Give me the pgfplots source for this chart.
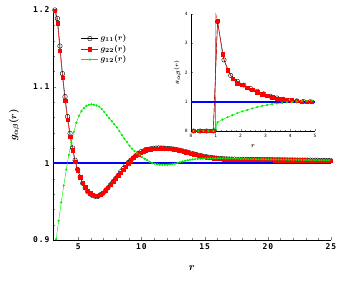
\documentclass[border=0pt]{standalone}
\usepackage{fontspec}
\usepackage{bm}
\usepackage{pgfplots}
\usepackage{pgfplotstable}
\pgfplotsset{compat=1.18}
\newfontfamily\tickfont{DejaVu Sans Mono Bold}[LetterSpace=12]
\newfontfamily\smalltickfont{DejaVu Sans Mono}
\definecolor{gr}{RGB}{0,235,0}
\definecolor{bl}{RGB}{0,0,255}
\definecolor{rd}{RGB}{255,0,0}

\pgfplotstableread{
r g22 g11
3.15 1.199 1.200
3.35 1.183 1.189
3.55 1.147 1.153
3.75 1.112 1.117
3.95 1.082 1.087
4.15 1.057 1.061
4.35 1.035 1.039
4.55 1.017 1.020
4.75 1.002 1.004
4.95 0.991 0.992
5.15 0.982 0.982
5.35 0.975 0.974
5.55 0.969 0.968
5.75 0.964 0.963
5.95 0.961 0.960
6.15 0.959 0.958
6.35 0.958 0.957
6.55 0.958 0.957
6.75 0.959 0.959
6.95 0.962 0.961
7.15 0.965 0.964
7.35 0.968 0.968
7.55 0.972 0.972
7.75 0.976 0.976
7.95 0.980 0.980
8.15 0.984 0.984
8.35 0.988 0.989
8.55 0.992 0.993
8.75 0.996 0.997
8.95 1.000 1.001
9.15 1.004 1.004
9.35 1.007 1.007
9.55 1.010 1.010
9.75 1.012 1.013
9.95 1.014 1.015
10.15 1.016 1.016
10.35 1.017 1.018
10.55 1.018 1.018
10.75 1.0185 1.019
10.95 1.019 1.0195
11.15 1.0192 1.0198
11.35 1.0194 1.020
11.55 1.0195 1.020
11.75 1.0194 1.0198
11.95 1.0192 1.0196
12.15 1.019 1.0193
12.35 1.0187 1.019
12.55 1.0183 1.0186
12.75 1.0177 1.018
12.95 1.017 1.0173
13.15 1.0163 1.0166
13.35 1.0155 1.0158
13.55 1.0146 1.0149
13.75 1.0137 1.014
13.95 1.0128 1.0131
14.15 1.0119 1.0122
14.35 1.011 1.0113
14.55 1.0102 1.0105
14.75 1.0095 1.0098
14.95 1.0088 1.0091
15.15 1.0082 1.0085
15.35 1.0077 1.008
15.55 1.0072 1.0075
15.75 1.0068 1.0071
15.95 1.0064 1.0067
16.15 1.0061 1.0064
16.35 1.0058 1.0061
16.55 1.0056 1.0059
16.75 1.0054 1.0057
16.95 1.0053 1.0056
17.15 1.0052 1.0055
17.35 1.0051 1.0054
17.55 1.0050 1.0053
17.75 1.0050 1.0053
17.95 1.0049 1.0052
18.15 1.0049 1.0052
18.35 1.0048 1.0051
18.55 1.0048 1.0051
18.75 1.0047 1.005
18.95 1.0047 1.005
19.15 1.0046 1.0049
19.35 1.0046 1.0049
19.55 1.0045 1.0048
19.75 1.0045 1.0048
19.95 1.0045 1.0048
20.15 1.0044 1.0047
20.35 1.0044 1.0047
20.55 1.0043 1.0046
20.75 1.0043 1.0046
20.95 1.0043 1.0046
21.15 1.0042 1.0045
21.35 1.0042 1.0045
21.55 1.0041 1.0044
21.75 1.0041 1.0044
21.95 1.0041 1.0044
22.15 1.0040 1.0043
22.35 1.0040 1.0043
22.55 1.0039 1.0042
22.75 1.0039 1.0042
22.95 1.0039 1.0042
23.15 1.0038 1.0041
23.35 1.0038 1.0041
23.55 1.0037 1.004
23.75 1.0037 1.004
23.95 1.0037 1.004
24.15 1.0036 1.0039
24.35 1.0036 1.0039
24.55 1.0035 1.0038
24.75 1.0035 1.0038
24.95 1.0035 1.0038
}\mainred

\pgfplotstableread{
r g12
3.25 0.901
3.45 0.925
3.65 0.949
3.85 0.971
4.05 0.992
4.25 1.011
4.45 1.027
4.65 1.041
4.85 1.053
5.05 1.062
5.25 1.068
5.45 1.072
5.65 1.075
5.85 1.0765
6.05 1.077
6.25 1.0765
6.45 1.0755
6.65 1.074
6.85 1.071
7.05 1.067
7.25 1.063
7.45 1.059
7.65 1.055
7.85 1.051
8.05 1.047
8.25 1.042
8.45 1.037
8.65 1.032
8.85 1.028
9.05 1.023
9.25 1.019
9.45 1.016
9.65 1.013
9.85 1.011
10.05 1.008
10.25 1.006
10.45 1.004
10.65 1.002
10.85 1.0005
11.05 0.9995
11.25 0.9988
11.45 0.9983
11.65 0.998
11.85 0.998
12.05 0.9982
12.25 0.9986
12.45 0.999
12.65 0.9995
12.85 1.0005
13.05 1.0015
13.25 1.0025
13.45 1.0033
13.65 1.004
13.85 1.0046
14.05 1.0051
14.25 1.0055
14.45 1.0058
14.65 1.006
14.85 1.0062
15.05 1.0063
15.25 1.0064
15.45 1.0065
15.65 1.0065
15.85 1.0066
16.05 1.0066
16.25 1.0066
16.45 1.0065
16.65 1.0065
16.85 1.0064
17.05 1.0064
17.25 1.0063
17.45 1.0062
17.65 1.0061
17.85 1.006
18.05 1.0059
18.25 1.0058
18.45 1.0057
18.65 1.0056
18.85 1.0055
19.05 1.0055
19.25 1.0054
19.45 1.0053
19.65 1.0053
19.85 1.0052
20.05 1.0052
20.25 1.0051
20.45 1.0051
20.65 1.005
20.85 1.005
21.05 1.0049
21.25 1.0049
21.45 1.0048
21.65 1.0048
21.85 1.0047
22.05 1.0047
22.25 1.0046
22.45 1.0046
22.65 1.0045
22.85 1.0045
23.05 1.0044
23.25 1.0044
23.45 1.0043
23.65 1.0043
23.85 1.0042
24.05 1.0042
24.25 1.0041
24.45 1.0041
24.65 1.004
24.85 1.004
}\maingreen

\pgfplotstableread{
r g22 g12
0.1 0 0
0.3 0 0
0.5 0 0
0.7 0 0
0.9 0 0
1.07 3.77 0.30
1.27 2.62 0.39
1.47 2.08 0.47
1.67 1.79 0.54
1.87 1.64 0.61
2.07 1.59 0.67
2.27 1.49 0.72
2.47 1.41 0.77
2.67 1.33 0.82
2.87 1.26 0.86
3.07 1.21 0.89
3.27 1.16 0.92
3.47 1.11 0.94
3.67 1.09 0.96
3.87 1.07 0.98
4.07 1.05 0.99
4.27 1.03 1.01
4.47 1.01 1.02
4.67 1.00 1.03
4.87 1.00 1.04
}\insetdata

\pgfplotstableread{
r g11
0.1 0
0.37 0
0.63 0
0.9 0
1.07 3.74
1.33 2.43
1.6 1.90
1.87 1.70
2.13 1.57
2.4 1.45
2.67 1.36
2.93 1.27
3.2 1.19
3.47 1.13
3.73 1.08
4.0 1.05
4.27 1.03
4.53 1.01
4.8 1.00
}\insetblack

\begin{document}
\begin{tikzpicture}
\begin{axis}[
  name=main,
  scale only axis,
  width=278bp, height=230bp,
  xmin=3, xmax=25, ymin=0.9, ymax=1.2,
  axis lines=left,
  axis line style={-, black},
  tick align=inside,
  major tick length=3bp, minor tick length=1.8bp,
  xtick={5,10,15,20,25},
  ytick={0.9,1,1.1,1.2},
  yticklabels={0.9,1,1.1,1.2},
  minor x tick num=4, minor y tick num=4,
  /pgf/number format/assume math mode=true,
  tick label style={font=\tickfont\fontsize{8}{9}\selectfont},
  xlabel={$\bm{r}$},
  ylabel={$\bm{g_{\alpha\beta}(r)}$},
  xlabel style={font=\fontsize{11}{12}\selectfont, yshift=-9bp},
  ylabel style={font=\fontsize{10}{11}\selectfont, yshift=7bp},
  clip=false,
  legend style={at={(0.09,0.91)}, anchor=north west, draw=none, fill=none,
    font=\fontsize{8.5}{9}\selectfont, row sep=-1pt},
  legend cell align=left,
]
\addplot[bl, line width=1.8bp, no marks, forget plot] coordinates {(3,1.0) (25,1.0)};
\addplot[black, thin, mark=o, mark size=2.3bp, mark options={black, line width=0.4pt}] table[x=r,y=g11] {\mainred};
\addlegendentry{$\bm{g_{11}(r)}$}
\addplot[rd, thin, mark=square*, mark size=1.7bp, mark options={rd}] table[x=r,y=g22] {\mainred};
\addlegendentry{$\bm{g_{22}(r)}$}
\addplot[gr, thin, mark=*, mark size=0.9bp, mark options={gr}] table[x=r,y=g12] {\maingreen};
\addlegendentry{$\bm{g_{12}(r)}$}
\end{axis}

\begin{axis}[
  at={(138bp,109bp)}, anchor=south west,
  scale only axis,
  width=124bp, height=117bp,
  xmin=0, xmax=5, ymin=0, ymax=4,
  axis lines=left,
  axis line style={-, black},
  tick align=inside,
  major tick length=2bp, minor tick length=1.2bp,
  xtick={0,1,2,3,4,5}, ytick={0,1,2,3,4},
  minor x tick num=4, minor y tick num=4,
  /pgf/number format/assume math mode=true,
  tick label style={font=\smalltickfont\fontsize{4.5}{5}\selectfont},
  xlabel={$\bm{r}$},
  ylabel={$\bm{g_{\alpha\beta}(r)}$},
  xlabel style={font=\fontsize{6}{7}\selectfont, yshift=0bp},
  ylabel style={font=\fontsize{5.5}{6}\selectfont, yshift=-3bp},
  clip=false,
]
\addplot[rd, thin, no marks] coordinates {(0.9,0) (0.98,0) (1.0,4.0) (1.07,3.77)};
\addplot[gr, thin, no marks] coordinates {(0.9,0) (1.0,0) (1.07,0.30)};
\addplot[black, thin, mark=o, mark size=2.2bp, mark options={black, line width=0.4pt}] table[x=r,y=g11] {\insetblack};
\addplot[rd, thin, mark=square*, mark size=1.7bp, mark options={rd}] table[x=r,y=g22] {\insetdata};
\addplot[gr, thin, mark=*, mark size=0.9bp, mark options={gr}] table[x=r,y=g12] {\insetdata};
\addplot[bl, line width=1.6bp, no marks] coordinates {(0,1) (5,1)};
\end{axis}
\path (main.south west) ++(-53bp,-49bp) coordinate (bbA);
\path (main.north east) ++(13bp,10bp) coordinate (bbB);
\useasboundingbox (bbA) rectangle (bbB);
\end{tikzpicture}
\end{document}
